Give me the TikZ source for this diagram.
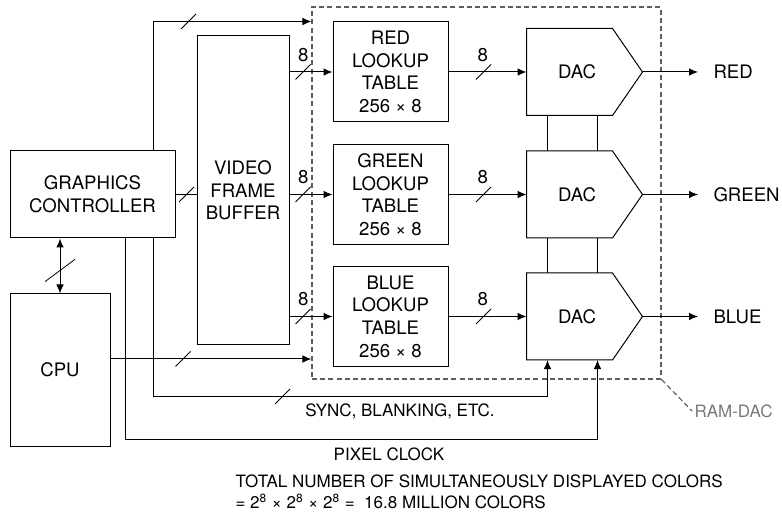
\documentclass[tikz,border=0pt]{standalone}
\usepackage{fontspec}
\setmainfont{TeX Gyre Heros}
\usetikzlibrary{positioning, arrows.meta, decorations.markings}
\usetikzlibrary{calc}
\definecolor{grisMarco}{RGB}{95, 95, 95}
\definecolor{grisTexto}{RGB}{120, 120, 120}

\begin{document}
\begin{tikzpicture}[
    x=0.5pt, y=-0.5pt,
    line width=0.5pt,
    every node/.style={font=\fontsize{9.3}{11.3}\selectfont},
    bloque/.style={
        rectangle,
        draw,
        align=center,
        inner sep=0pt
    },
    tabla/.style={
        bloque,
        minimum width=57.5pt,
        minimum height=50pt
    },
    dac/.style={
        rectangle,
        align=center,
        inner sep=0pt,
        minimum width=50pt,
        minimum height=43pt
    },
    marco/.style={
        rectangle,
        draw=grisMarco,
        dash pattern=on 2.5pt off 1.6pt,
        line width=0.6pt,
        minimum width=174.5pt,
        minimum height=186pt
    },
    salida/.style={
        anchor=west,
        inner xsep=7.5pt
    },
    etiqueta/.style={
        inner sep=2pt
    },
    nota/.style={
        inner sep=2pt,
        font=\fontsize{8.5}{10.5}\selectfont
    },
    flecha/.style={
        -{Latex[length=4.5pt, width=3.8pt]}
    },
    bus/.style={
        postaction={decorate, decoration={markings, mark=at position #1 with {
            \pgftransformresetnontranslations
            \draw[-, line width=0.4pt] (-3.75pt,-3.75pt) -- (3.75pt,3.75pt);}}}
    },
    busv/.style={
        postaction={decorate, decoration={markings, mark=at position #1 with {
            \pgftransformresetnontranslations
            \draw[-, line width=0.4pt] (-7.4pt,-5.5pt) -- (7.4pt,5.5pt);}}}
    }
]
\useasboundingbox (0,0) rectangle (782,513);

% bloques
\node[bloque, minimum width=82.5pt, minimum height=43.5pt] (gc) at (92.5,194.5) {GRAPHICS\\CONTROLLER};
\node[bloque, minimum width=50pt, minimum height=76pt] (cpu) at (60,370) {CPU};
\node[bloque, minimum width=46pt, minimum height=154.5pt] (vfb) at (243,190.5) {VIDEO\\FRAME\\BUFFER};
\node[marco] (ramdac) at (486.5,193) {};

\node[tabla] (rlut) at (390.5,72) {RED\\LOOKUP\\TABLE\\256 × 8};
\node[tabla] (glut) at (390.5,194.5) {GREEN\\LOOKUP\\TABLE\\256 × 8};
\node[tabla] (blut) at (390.5,316.5) {BLUE\\LOOKUP\\TABLE\\256 × 8};

\node[dac] (rdac) at (577,72) {DAC};
\node[dac] (gdac) at (577,194.5) {DAC};
\node[dac] (bdac) at (577,316.5) {DAC};
\foreach \d in {rdac,gdac,bdac}
    \draw (\d.north west) -- ([xshift=-7.5pt]\d.north east) -- ([xshift=7.5pt]\d.east)
        -- ([xshift=-7.5pt]\d.south east) -- (\d.south west) -- cycle;

\node[salida] (rout) at (698,72) {RED};
\node[salida] (gout) at (698,194.5) {GREEN};
\node[salida] (bout) at (698,316.5) {BLUE};

% textos
\node[nota] (sync) at (400,411) {SYNC, BLANKING, ETC.};
\node[nota] (pclk) at (389,454) {PIXEL CLOCK};
\node[nota, text=grisTexto, anchor=west, inner sep=1pt] (ramlbl) at (692,411) {RAM-DAC};
\node[nota, anchor=west, align=left, inner sep=0pt] (total) at (235,491.5)
    {TOTAL NUMBER OF SIMULTANEOUSLY DISPLAYED COLORS\\= 2\textsuperscript{8} × 2\textsuperscript{8} × 2\textsuperscript{8} =\ \ 16.8 MILLION COLORS};

% conexiones
\draw[flecha, bus=82.25pt] ([xshift=30.25pt]gc.north) |- (ramdac.west |- rlut.north);
\draw[bus=5.5pt] (gc.east) -- (gc.east -| vfb.west);
\draw[{Latex[length=4.5pt, width=3.8pt]}-{Latex[length=4.5pt, width=3.8pt]}, busv=16pt] (cpu.north |- gc.south) -- (cpu.north);
\draw[flecha, bus=36.25pt] ([yshift=5.5pt]cpu.east) -- ([yshift=5.5pt]cpu.east -| ramdac.west);

\draw[flecha, bus=6.75pt] (vfb.east |- rlut.west) -- (rlut.west) node[etiqueta, pos=0.32, above=3pt] {8};
\draw[flecha, bus=6.75pt] (vfb.east |- glut.west) -- (glut.west) node[etiqueta, pos=0.32, above=3pt] {8};
\draw[flecha, bus=6.75pt] (vfb.east |- blut.west) -- (blut.west) node[etiqueta, pos=0.32, above=3pt] {8};

\draw[flecha, bus=17.5pt] (rlut.east) -- (rdac.west) node[etiqueta, pos=0.44, above=3pt] {8};
\draw[flecha, bus=17.5pt] (glut.east) -- (gdac.west) node[etiqueta, pos=0.44, above=3pt] {8};
\draw[flecha, bus=17.5pt] (blut.east) -- (bdac.west) node[etiqueta, pos=0.44, above=3pt] {8};

\draw[flecha] ([xshift=7.5pt]rdac.east) -- (rout.west);
\draw[flecha] ([xshift=7.5pt]gdac.east) -- (gout.west);
\draw[flecha] ([xshift=7.5pt]bdac.east) -- (bout.west);

\foreach \a/\b in {rdac/gdac, gdac/bdac} {
    \draw ([xshift=10.5pt]\a.south west) -- ([xshift=10.5pt]\b.north west);
    \draw ([xshift=35.5pt]\a.south west) -- ([xshift=35.5pt]\b.north west);
}

\draw[flecha, bus=143.75pt] ([xshift=30.25pt]gc.south) -- ++(0,-79pt) -| ([xshift=10.5pt]bdac.south west);
\draw[flecha] ([xshift=16.25pt]gc.south) -- ++(0,-100.5pt) -| ([xshift=35.5pt]bdac.south west);

\draw[draw=grisMarco, dash pattern=on 2.5pt off 1.6pt, line width=0.6pt] (ramdac.south east) -- (ramlbl.west);

\end{tikzpicture}
\end{document}
